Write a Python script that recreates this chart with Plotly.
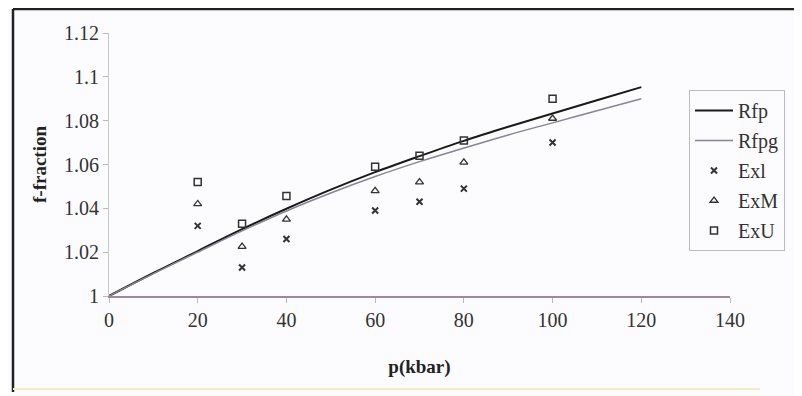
import plotly.graph_objects as go

# Model curves
p_line = [0, 10, 20, 30, 40, 50, 60, 70, 80, 90, 100, 110, 120]
rfp = [1.0, 1.0105, 1.0205, 1.0305, 1.0398, 1.0485, 1.0565, 1.0638, 1.0708, 1.0772, 1.0833, 1.0893, 1.0953]
rfpg = [1.0, 1.0102, 1.0200, 1.0297, 1.0388, 1.0470, 1.0545, 1.0613, 1.0675, 1.0735, 1.0790, 1.0845, 1.0900]

# Experimental points
p_exp = [20, 30, 40, 60, 70, 80, 100]
exl = [1.032, 1.013, 1.026, 1.039, 1.043, 1.049, 1.070]
exm = [1.042, 1.0225, 1.035, 1.048, 1.052, 1.061, 1.081]
exu = [1.052, 1.033, 1.0456, 1.059, 1.064, 1.071, 1.090]

x_ticks = [0, 20, 40, 60, 80, 100, 120, 140]
y_ticks = [1, 1.02, 1.04, 1.06, 1.08, 1.1, 1.12]
y_ticklabels = ["1", "1.02", "1.04", "1.06", "1.08", "1.1", "1.12"]

FONT = "Liberation Serif"
fig = go.Figure()
fig.add_trace(go.Scatter(x=p_line, y=rfp, mode="lines", name="Rfp", legendgroup="a",
                         line=dict(color="#1a1a1a", width=2, shape="spline")))
fig.add_trace(go.Scatter(x=p_line, y=rfpg, mode="lines", name="Rfpg", legendgroup="b",
                         line=dict(color="#8a8494", width=1.5, shape="spline")))
fig.add_trace(go.Scatter(x=p_exp, y=exl, mode="markers", name="Exl", legendgroup="c",
                         marker=dict(symbol="x-thin", size=6, color="#333",
                                     line=dict(width=2, color="#333"))))
fig.add_trace(go.Scatter(x=p_exp, y=exm, mode="markers", name="ExM", legendgroup="d",
                         marker=dict(symbol="triangle-up-open", size=7, color="#333",
                                     line=dict(width=1.3))))
fig.add_trace(go.Scatter(x=p_exp, y=exu, mode="markers", name="ExU", legendgroup="e",
                         marker=dict(symbol="square-open", size=7, color="#333",
                                     line=dict(width=1.5))))

OFF = 8  # page body margin
W, H = 802 - OFF, 396 - OFF
L, T = 109 - OFF, 33 - OFF
R = W - (730 - OFF)
B = H - (296 - OFF)
pw, ph = 730 - 109, 296 - 33

def px(xp):
    return (xp - 109) / pw

def py(yp):
    return (296 - yp) / ph

fig.update_layout(
    width=W, height=H,
    margin=dict(l=L, r=R, t=T, b=B, autoexpand=False),
    paper_bgcolor="#fcfbfd", plot_bgcolor="#fcfbfd",
    font=dict(family=FONT, size=20, color="#333"),
    showlegend=True,
    legend=dict(xref="container", yref="container",
                x=(689 - OFF) / W, y=1 - (90 - OFF) / H, xanchor="left", yanchor="top",
                traceorder="grouped", tracegroupgap=1, itemwidth=38,
                bordercolor="#bbbbbb", borderwidth=1, bgcolor="#fcfbfd",
                font=dict(family=FONT, size=20, color="#333")),
    xaxis=dict(range=[0, 140], tickvals=x_ticks, showgrid=False, zeroline=False,
               showline=True, linecolor="#9a8a9a", linewidth=1.5,
               ticks="outside", ticklen=5, tickcolor="#bbb",
               title=dict(text="<b>p(kbar)</b>", standoff=30,
                          font=dict(family=FONT, size=19, color="#222"))),
    yaxis=dict(range=[1, 1.12], tickvals=y_ticks, ticktext=y_ticklabels,
               showgrid=False, zeroline=False,
               showline=True, linecolor="#c8c8c8", linewidth=1,
               ticks="outside", ticklen=5, tickcolor="#bbb",
               title=dict(text="<b>f-fraction</b>", standoff=12,
                          font=dict(family=FONT, size=19, color="#222"))),
    shapes=[
        dict(type="line", xref="paper", yref="paper", x0=px(13), x1=px(13), y0=py(392), y1=py(9),
             line=dict(color="#222", width=2.5)),
        dict(type="line", xref="paper", yref="paper", x0=px(13), x1=px(802), y0=py(9), y1=py(9),
             line=dict(color="#222", width=2.5)),
        dict(type="line", xref="paper", yref="paper", x0=px(13), x1=px(760), y0=py(389), y1=py(389),
             line=dict(color="#f4ecc8", width=2)),
    ],
)

fig.write_html("out.html")
